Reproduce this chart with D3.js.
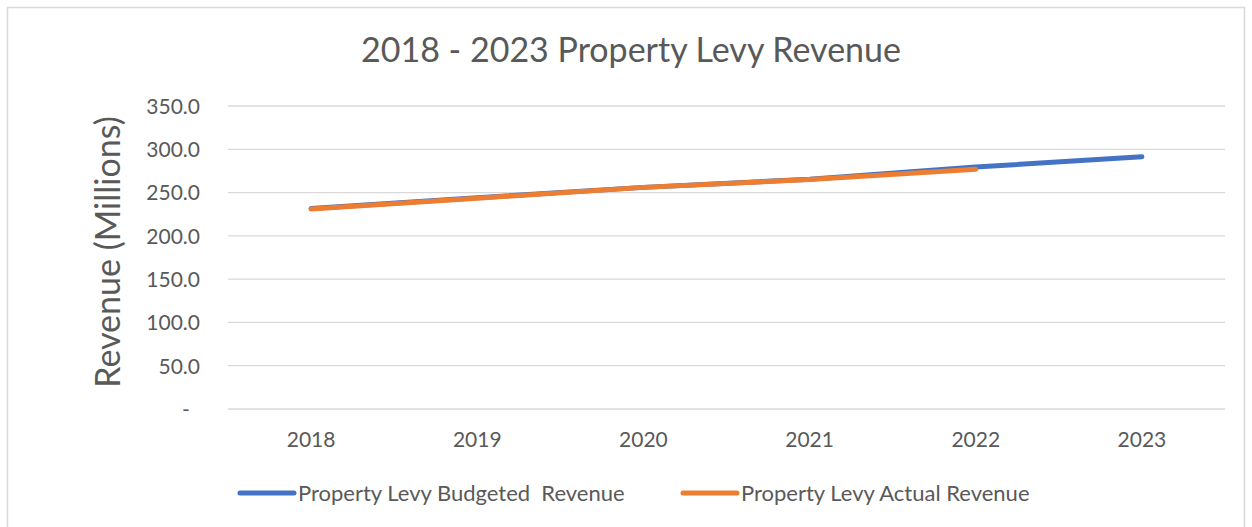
<!DOCTYPE html>
<html lang="en">
<head>
  <meta charset="UTF-8">
  <title>Property Levy Revenue</title>
  <style>
    body { margin: 0; background: #fff; }
    text { font-family: Lato, "Liberation Sans", sans-serif; fill: #595959; }
  </style>
</head>
<body>
<svg width="1252" height="527"></svg>
<script src="https://cdn.jsdelivr.net/npm/d3@7"></script>
<script>
  var years = ['2018', '2019', '2020', '2021', '2022', '2023'];
  var budgeted = [231.5, 244, 256, 265.5, 279.5, 291.5];
  var actual = [231, 243.5, 256, 265, 277];
  var yTicks = [0, 50, 100, 150, 200, 250, 300, 350];

  var svg = d3.select('svg');
  var marge = {top: 106, left: 228, right: 1225, bottom: 409};

  // outer chart border
  svg.append('rect').attr('x', 7.5).attr('y', 7.5).attr('width', 1237).attr('height', 530)
    .attr('fill', 'none').attr('stroke', '#d9d9d9').attr('stroke-width', 1.5);

  var xScale = d3.scaleBand().domain(years).range([marge.left, marge.right]);
  var yScale = d3.scaleLinear().domain([0, 350]).range([marge.bottom, marge.top]);

  // gridlines
  svg.append('g').selectAll('line').data(yTicks).enter().append('line')
    .attr('x1', marge.left).attr('x2', marge.right)
    .attr('y1', function (d) { return yScale(d); })
    .attr('y2', function (d) { return yScale(d); })
    .attr('stroke', '#d9d9d9').attr('stroke-width', 1.3);

  // y axis labels
  var yAxis = d3.axisLeft(yScale).tickValues(yTicks).tickSize(0).tickPadding(0)
    .tickFormat(function (d) { return d === 0 ? '-' : d3.format('.1f')(d); });
  var gy = svg.append('g').attr('transform', 'translate(200,0)').call(yAxis);
  gy.select('.domain').remove();
  gy.selectAll('text').attr('fill', '#595959').style('font-size', '21px')
    .attr('text-anchor', 'end').attr('x', 0).attr('dy', '0.35em');
  gy.selectAll('.tick').filter(function (d) { return d === 0; }).select('text')
    .attr('text-anchor', 'middle').attr('x', -14);

  // x axis labels
  var xAxis = d3.axisBottom(xScale).tickSize(0).tickPadding(0);
  var gx = svg.append('g').attr('transform', 'translate(0,' + (marge.bottom + 25) + ')').call(xAxis);
  gx.select('.domain').remove();
  gx.selectAll('text').attr('fill', '#595959').style('font-size', '21px').attr('dy', '0.6em');

  var line = d3.line()
    .x(function (d, i) { return xScale(years[i]) + xScale.bandwidth() / 2; })
    .y(function (d) { return yScale(d); });

  svg.append('path').datum(budgeted).attr('d', line)
    .attr('fill', 'none').attr('stroke', '#4472c4').attr('stroke-width', 5)
    .attr('stroke-linecap', 'round').attr('stroke-linejoin', 'round');
  svg.append('path').datum(actual).attr('d', line)
    .attr('fill', 'none').attr('stroke', '#ed7d31').attr('stroke-width', 5)
    .attr('stroke-linecap', 'round').attr('stroke-linejoin', 'round');

  // title
  svg.append('text').attr('x', 631).attr('y', 62).attr('text-anchor', 'middle')
    .style('font-size', '34px').text('2018 - 2023 Property Levy Revenue');

  // y axis title
  svg.append('text').attr('transform', 'translate(120,252) rotate(-90)')
    .attr('text-anchor', 'middle').style('font-size', '34px').text('Revenue (Millions)');

  // legend
  var legend = [
    {name: 'Property Levy Budgeted  Revenue', color: '#4472c4', x: 240},
    {name: 'Property Levy Actual Revenue', color: '#ed7d31', x: 683}
  ];
  var lg = svg.append('g').selectAll('g').data(legend).enter().append('g')
    .attr('transform', function (d) { return 'translate(' + d.x + ',493)'; });
  lg.append('line').attr('x1', 0).attr('x2', 54).attr('y1', 0).attr('y2', 0)
    .attr('stroke', function (d) { return d.color; }).attr('stroke-width', 5)
    .attr('stroke-linecap', 'round');
  lg.append('text').attr('x', 58).attr('dy', '0.35em').style('font-size', '22px')
    .style('white-space', 'pre').attr('xml:space', 'preserve')
    .text(function (d) { return d.name; });
</script>
</body>
</html>
